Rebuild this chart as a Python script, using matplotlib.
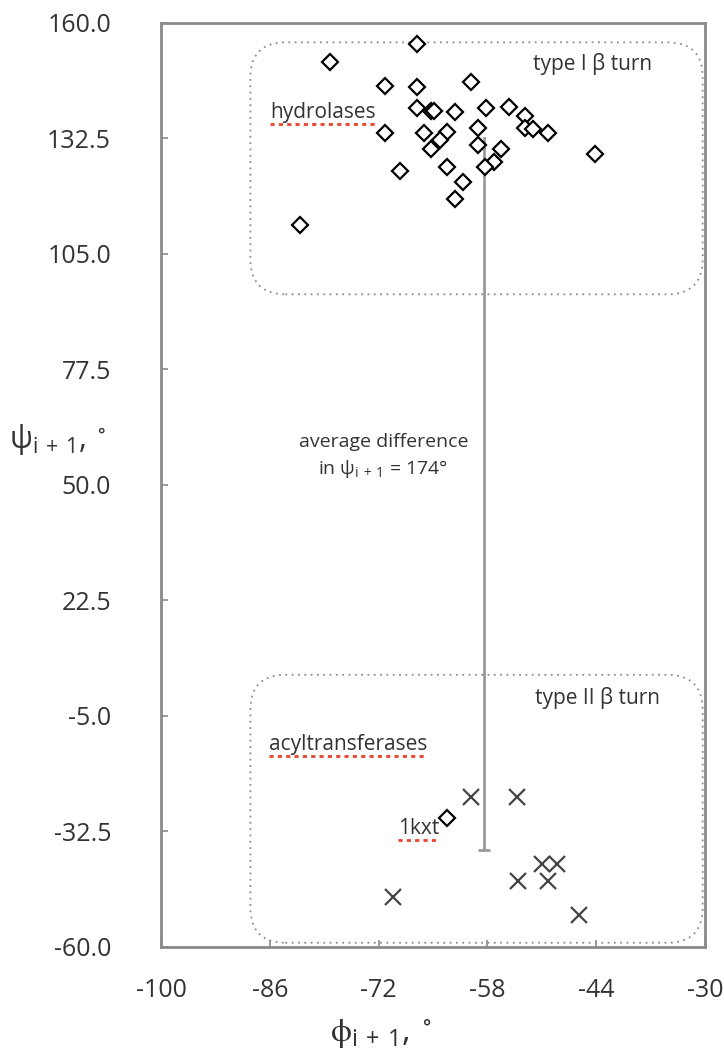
import matplotlib
matplotlib.use("Agg")
import matplotlib.pyplot as plt
import numpy as np
from matplotlib.patches import FancyBboxPatch
from matplotlib.lines import Line2D

# phi/psi (i+1) angles, degrees
hydrolase_phi = [-67.1, -78.2, -71.2, -67.1, -60.1, -67.1, -65.2, -64.9, -62.2,
                 -58.2, -55.2, -53.2, -53.2, -52.1, -50.2, -71.2, -66.2, -63.2,
                 -64.1, -65.2, -59.2, -59.2, -56.2, -57.1, -58.3, -63.2, -69.2,
                 -61.2, -62.2, -44.1, -82.1]
hydrolase_psi = [154.9, 150.8, 145.0, 144.8, 145.9, 139.8, 139.0, 139.0, 138.9,
                 139.8, 139.9, 137.9, 134.9, 134.8, 133.9, 133.9, 133.9, 134.1,
                 132.1, 129.9, 134.9, 131.0, 129.9, 127.0, 125.8, 125.8, 124.8,
                 122.1, 118.0, 128.8, 111.9]

kxt_phi = [-63.2]
kxt_psi = [-29.2]

acyl_phi = [-60.1, -54.2, -70.2, -54.1, -51.0, -49.1, -50.2, -46.2]
acyl_psi = [-24.2, -24.2, -48.2, -44.2, -40.2, -40.2, -44.2, -52.4]

# mean-difference bar
diff_phi = -58.5
diff_psi = [132.5, -37.0]

x_ticks = [-100, -86, -72, -58, -44, -30]
y_ticks = [-60.0, -32.5, -5.0, 22.5, 50.0, 77.5, 105.0, 132.5, 160.0]

FONT = ["Open Sans", "DejaVu Sans"]
TEXT = "#333333"
GRID = "#8a8a8a"

plt.rcParams["font.family"] = FONT
plt.rcParams["axes.unicode_minus"] = False
plt.rcParams["mathtext.fontset"] = "custom"
plt.rcParams["mathtext.rm"] = "Open Sans"

fig = plt.figure(figsize=(7.24, 10.55), dpi=100)
ax = fig.add_axes([0.2224, 0.1024, 0.7514, 0.8758])

ax.set_xlim(-100, -30)
ax.set_ylim(-60, 160)

# region boxes (rounded, dotted)
for y0, y1 in [(95.4, 155.4), (-59.0, 4.8)]:
    box = FancyBboxPatch((-88.5, y0), 58.2, y1 - y0,
                         boxstyle="round,pad=0,rounding_size=4.5",
                         mutation_aspect=1.85, fill=False,
                         edgecolor="#8c8c8c", linewidth=1.3,
                         linestyle=(0, (1, 2.5)), zorder=1)
    ax.add_patch(box)

ax.plot([diff_phi, diff_phi], diff_psi, color="#9a9a9a", lw=2,
        marker="_", markevery=[1], ms=8, mew=2, zorder=2)

ax.plot(hydrolase_phi, hydrolase_psi, linestyle="none", marker="D", ms=8,
        mfc="white", mec="black", mew=1.6, zorder=3)
ax.plot(kxt_phi, kxt_psi, linestyle="none", marker="D", ms=8,
        mfc="white", mec="black", mew=1.6, zorder=3)
ax.plot(acyl_phi, acyl_psi, linestyle="none", marker="x", ms=12,
        mec="#444444", mew=1.6, zorder=3)

# labels
tkw = dict(color=TEXT, fontsize=15, va="center")
ax.text(-52.1, 150.2, "type I β turn", ha="left", **tkw)
ax.text(-51.9, -0.7, "type II β turn", ha="left", **tkw)
t_hyd = ax.text(-86.0, 138.6, "hydrolases", ha="left", **tkw)
t_acyl = ax.text(-86.1, -11.9, "acyltransferases", ha="left", **tkw)
t_kxt = ax.text(-69.5, -31.9, "1kxt", ha="left", **tkw)
ax.text(-71.4, 60.2, "average difference", ha="center", color=TEXT, fontsize=14, va="center")
ax.text(-71.4, 53.8, r"in $\mathregular{\psi_{i\,+\,1}}$ = 174°", ha="center",
        color=TEXT, fontsize=14, va="center")

ax.set_xticks(x_ticks)
ax.set_xticklabels([str(v) for v in x_ticks])
ax.set_yticks(y_ticks)
ax.set_yticklabels([f"{v:.1f}" for v in y_ticks])
ax.tick_params(direction="in", length=5, width=1.2, color=GRID,
               labelsize=18, labelcolor=TEXT)
ax.tick_params(axis="y", pad=36)
ax.tick_params(axis="x", pad=22)

for sp in ax.spines.values():
    sp.set_color(GRID)
    sp.set_linewidth(2)

ax.set_ylabel(r"$\mathregular{\psi_{i\,+\,1},\,^{\circ}}$", rotation=0,
              fontsize=22, color=TEXT, ha="center", va="center")
ax.yaxis.set_label_coords(-0.19, 0.549)
ax.set_xlabel(r"$\mathregular{\phi_{i\,+\,1},\,^{\circ}}$", fontsize=24,
              color=TEXT, ha="center", va="center")
ax.xaxis.set_label_coords(0.404, -0.094)

# dotted red underlines beneath the labelled groups
fig.canvas.draw()
renderer = fig.canvas.get_renderer()
for t in (t_hyd, t_acyl, t_kxt):
    bb = t.get_window_extent(renderer)
    y = bb.y0 - 1
    fig.add_artist(Line2D([bb.x0, bb.x1], [y, y], transform=None,
                          color="#e8452c", lw=2, linestyle=(0, (1.5, 1.5))))

fig.savefig("out.png", dpi=100)
